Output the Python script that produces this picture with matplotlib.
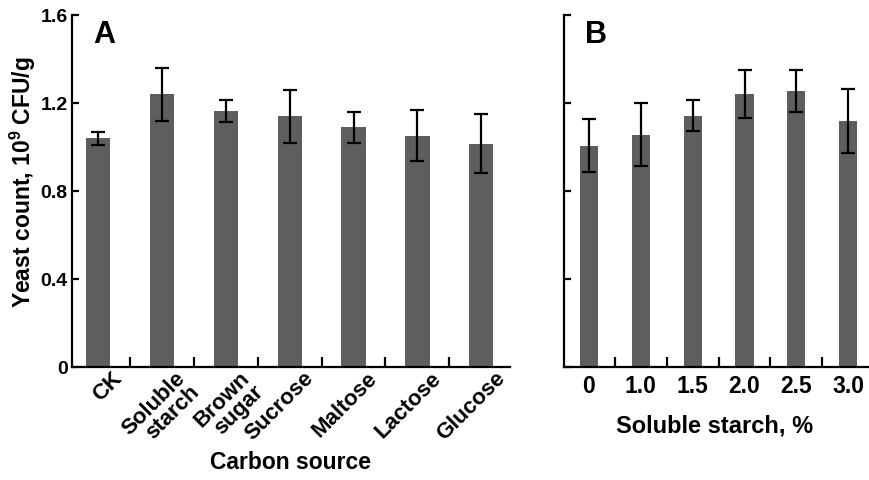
import matplotlib
matplotlib.use('Agg')
import matplotlib.pyplot as plt
import matplotlib.transforms as mtransforms
import numpy as np

plt.rcParams['font.family'] = ['Liberation Sans', 'DejaVu Sans']
plt.rcParams['font.weight'] = 'bold'
plt.rcParams['mathtext.fontset'] = 'custom'
plt.rcParams['mathtext.bf'] = 'Liberation Sans:bold'
plt.rcParams['mathtext.rm'] = 'Liberation Sans:bold'

# panel A: carbon source
carbon_labels = ['CK', 'Soluble\nstarch', 'Brown\nsugar', 'Sucrose', 'Maltose', 'Lactose', 'Glucose']
carbon_means = [1.04, 1.24, 1.162, 1.139, 1.09, 1.051, 1.015]
carbon_err = [0.03, 0.12, 0.05, 0.12, 0.07, 0.115, 0.135]

# panel B: soluble starch concentration
starch_labels = ['0', '1.0', '1.5', '2.0', '2.5', '3.0']
starch_means = [1.006, 1.056, 1.142, 1.242, 1.256, 1.118]
starch_err = [0.12, 0.144, 0.07, 0.11, 0.095, 0.145]

bar_color = '#5e5e5e'
lw = 1.6

fig = plt.figure(figsize=(8.69, 4.81), dpi=100)
axA = fig.add_axes([72 / 869, 113 / 481, 438 / 869, 352 / 481])
axB = fig.add_axes([564 / 869, 113 / 481, 305 / 869, 352 / 481])


def style(ax, n):
    for s in ['top', 'right']:
        ax.spines[s].set_visible(False)
    for s in ['left', 'bottom']:
        ax.spines[s].set_linewidth(lw)
    ax.set_ylim(0, 1.6)
    ax.set_yticks([0, 0.4, 0.8, 1.2, 1.6])
    ax.tick_params(axis='y', direction='in', length=5, width=lw, pad=3)
    ax.set_xticks(np.arange(n))
    ax.set_xticks(np.arange(n - 1) + 0.5, minor=True)
    ax.tick_params(axis='x', which='major', length=0)
    ax.tick_params(axis='x', which='minor', direction='in', length=7, width=lw)


xA = np.arange(len(carbon_labels))
axA.bar(xA, carbon_means, width=0.38, color=bar_color, zorder=2)
axA.errorbar(xA, carbon_means, yerr=carbon_err, fmt='none', ecolor='black',
             elinewidth=lw, capsize=5, capthick=lw, zorder=3)
style(axA, len(carbon_labels))
axA.set_xlim(-0.41, 6.45)
axA.set_yticklabels(['0', '0.4', '0.8', '1.2', '1.6'], fontsize=14, fontweight='bold')
axA.tick_params(axis='x', which='major', pad=0)
axA.set_xticklabels(carbon_labels, rotation=45, ha='right', va='top',
                    rotation_mode='anchor', fontsize=16, fontweight='bold',
                    linespacing=0.9)
for lab in axA.get_xticklabels():
    lab.set_transform(lab.get_transform() +
                      mtransforms.ScaledTranslation(0.13, 0.0, fig.dpi_scale_trans))
fig.text(23 / 869, 1 - 182 / 481, r'Yeast count, 10$^{\mathbf{9}}$ CFU/g', rotation=90,
         fontsize=16.5, fontweight='bold', ha='center', va='center')
fig.text(290 / 869, 1 - 463 / 481, 'Carbon source', fontsize=16.5, fontweight='bold',
         ha='center', va='center')
axA.text(0.048, 0.99, 'A', transform=axA.transAxes, fontsize=22, fontweight='bold',
         va='top', ha='left')

xB = np.arange(len(starch_labels))
axB.bar(xB, starch_means, width=0.35, color=bar_color, zorder=2)
axB.errorbar(xB, starch_means, yerr=starch_err, fmt='none', ecolor='black',
             elinewidth=lw, capsize=5, capthick=lw, zorder=3)
style(axB, len(starch_labels))
axB.set_xlim(-0.48, 5.4)
axB.set_yticklabels([])
axB.tick_params(axis='x', which='major', pad=5)
axB.set_xticklabels(starch_labels, fontsize=16.5, fontweight='bold')
fig.text(715 / 869, 1 - 426 / 481, 'Soluble starch, %', fontsize=17, fontweight='bold',
         ha='center', va='center')
axB.text(0.069, 0.99, 'B', transform=axB.transAxes, fontsize=22, fontweight='bold',
         va='top', ha='left')

fig.savefig('out.png', dpi=100)
